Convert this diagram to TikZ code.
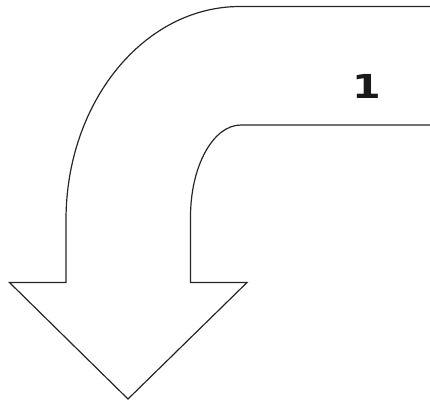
\documentclass[tikz,border=0pt]{standalone}
\usepackage{fontspec}
\newfontfamily\labelfont{DejaVu Sans}
\begin{document}
\begin{tikzpicture}[x=1pt,y=-1pt,
  outline/.style={draw=black!85,line width=1.2pt,line join=miter},
  numlabel/.style={font=\labelfont\bfseries\fontsize{33}{33}\selectfont,inner sep=0pt,xscale=1.25,text=black!90}]
  \useasboundingbox (0,0) rectangle (430,404);
  % bent block arrow, open on the right where it runs off the page
  \draw[outline] (430,6.5) -- (240,6.5)
     .. controls (143.9,6.5) and (66,102.1) .. (66,220)
     -- (66,282.5) -- (9.5,282.5) -- (128,399) -- (247,282.5)
     -- (190.5,282.5) -- (190.5,217)
     .. controls (190.5,166.2) and (213.1,125) .. (241,125)
     -- (430,125);
  \node[numlabel] (num) at (367,86.5) {1};
\end{tikzpicture}
\end{document}
